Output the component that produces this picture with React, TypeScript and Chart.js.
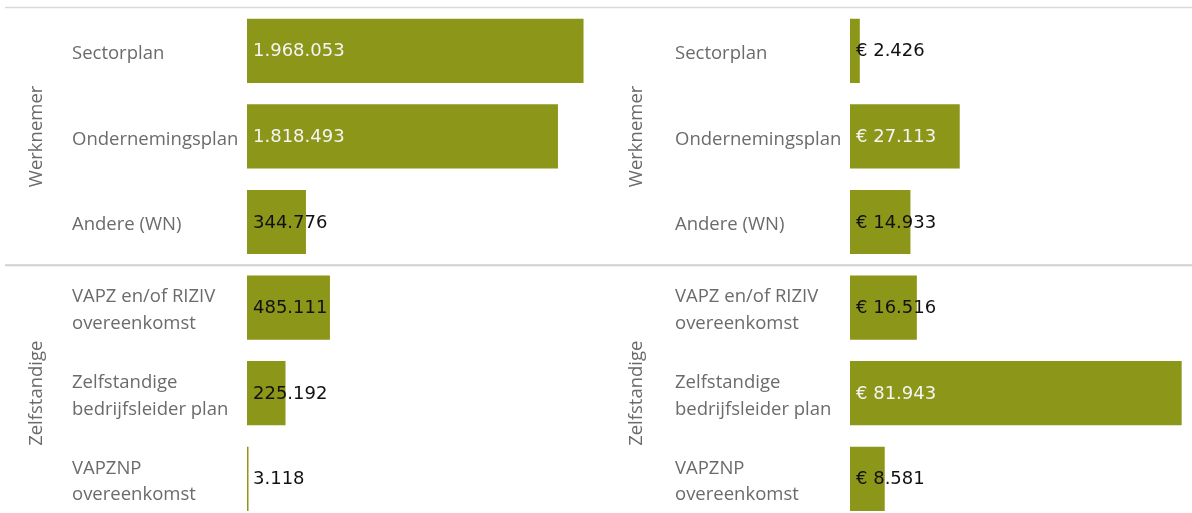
import React, { useEffect, useRef } from "react";
import { Chart, registerables } from "chart.js";

Chart.register(...registerables);

const categories: (string | string[])[] = [
  "Sectorplan",
  "Ondernemingsplan",
  "Andere (WN)",
  ["VAPZ en/of RIZIV", "overeenkomst"],
  ["Zelfstandige", "bedrijfsleider plan"],
  ["VAPZNP", "overeenkomst"],
];
const groups = ["Werknemer", "Zelfstandige"];
const groupSizes = [3, 3];
const aantal = [1968053, 1818493, 344776, 485111, 225192, 3118];
const bedrag = [2426, 27113, 14933, 16516, 81943, 8581];

const BAR = "#8c9619";
const LABEL_GRAY = "#6b6b6b";
const LINE_GRAY = "#d0d0d0";
const CAT_FONT = "'Open Sans', sans-serif";
const VAL_FONT = "'DejaVu Sans', sans-serif";

function fmt(v: number) {
  return String(v).replace(/\B(?=(\d{3})+(?!\d))/g, ".");
}

function makePlugin(prefix: string, groupX: number, lineStart: number) {
  return {
    id: "decor" + prefix.length,
    afterDatasetsDraw(chart: any) {
      const ctx = chart.ctx;
      const meta = chart.getDatasetMeta(0);
      const ds = chart.data.datasets[0].data as number[];
      ctx.save();
      ctx.font = `18px ${VAL_FONT}`;
      ctx.textBaseline = "middle";
      ctx.textAlign = "left";
      meta.data.forEach((el: any, i: number) => {
        const txt = prefix + fmt(ds[i]);
        const w = ctx.measureText(txt).width;
        const barW = el.x - el.base;
        ctx.fillStyle = barW > w + 20 ? "#f4f4f4" : "#111111";
        ctx.fillText(txt, el.base + 6, el.y + 1);
      });
      ctx.restore();
    },
    afterDraw(chart: any) {
      const ctx = chart.ctx;
      const y = chart.scales.y;
      const W = chart.width;
      ctx.save();
      const band = y.getPixelForValue(1) - y.getPixelForValue(0);
      const top = y.getPixelForValue(0) - band / 2;
      ctx.strokeStyle = "#d9d9d9";
      ctx.lineWidth = 1.5;
      ctx.beginPath();
      ctx.moveTo(lineStart, top - 0.5);
      ctx.lineTo(W, top - 0.5);
      ctx.stroke();
      let idx = 0;
      groups.forEach((g, gi) => {
        const start = y.getPixelForValue(idx) - band / 2;
        idx += groupSizes[gi];
        const end = y.getPixelForValue(idx - 1) + band / 2;
        if (gi > 0) {
          ctx.strokeStyle = LINE_GRAY;
          ctx.lineWidth = 2;
          ctx.beginPath();
          ctx.moveTo(lineStart, start + 0.5);
          ctx.lineTo(W, start + 0.5);
          ctx.stroke();
        }
        ctx.save();
        ctx.translate(groupX, (start + end) / 2);
        ctx.rotate(-Math.PI / 2);
        ctx.fillStyle = LABEL_GRAY;
        ctx.font = `18.5px ${CAT_FONT}`;
        ctx.textAlign = "center";
        ctx.textBaseline = "middle";
        ctx.fillText(g, 0, 0);
        ctx.restore();
      });
      ctx.restore();
    },
  };
}

function Panel(props: {
  values: number[];
  max: number;
  prefix: string;
  left: number;
  width: number;
  padLeft: number;
  padRight: number;
  groupX: number;
  lineStart: number;
}) {
  const ref = useRef<HTMLCanvasElement | null>(null);
  useEffect(() => {
    if (!ref.current) return;
    const chart = new Chart(ref.current, {
      type: "bar",
      data: {
        labels: categories as any,
        datasets: [
          {
            data: props.values,
            backgroundColor: BAR,
            borderWidth: 0,
            categoryPercentage: 1,
            barPercentage: 0.75,
            minBarLength: 1.5,
          },
        ],
      },
      options: {
        indexAxis: "y",
        animation: false,
        responsive: false,
        layout: {
          padding: { left: props.padLeft, right: props.padRight, top: 8, bottom: 8.4 },
        },
        plugins: {
          legend: { display: false },
          tooltip: { enabled: false },
        },
        scales: {
          x: { display: false, min: 0, max: props.max },
          y: {
            grid: { display: false },
            border: { display: false },
            ticks: {
              crossAlign: "far",
              color: LABEL_GRAY,
              font: { family: CAT_FONT, size: 18.5, lineHeight: 1.45 },
              padding: 0,
              labelOffset: 3,
            },
            afterFit: (scale: any) => {
              scale.width = 175;
              scale.paddingTop = 0;
              scale.paddingBottom = 0;
            },
          },
        },
      } as any,
      plugins: [makePlugin(props.prefix, props.groupX, props.lineStart) as any],
    });
    return () => chart.destroy();
  }, []);
  return (
    <div style={{ position: "absolute", left: props.left, top: 0, width: props.width, height: 530 }}>
      <canvas ref={ref} width={props.width} height={530} style={{ display: "block" }} />
    </div>
  );
}

export default function App() {
  return (
    <div
      style={{
        position: "fixed",
        left: 0,
        top: 0,
        width: 1192,
        height: 513,
        overflow: "hidden",
        background: "#ffffff",
      }}
    >
      <Panel values={aantal} max={2000000} prefix="" left={0} width={600} padLeft={72} padRight={11} groupX={37} lineStart={5} />
      <Panel values={bedrag} max={84000} prefix="€ " left={600} width={592} padLeft={75} padRight={2} groupX={37} lineStart={0} />
    </div>
  );
}
